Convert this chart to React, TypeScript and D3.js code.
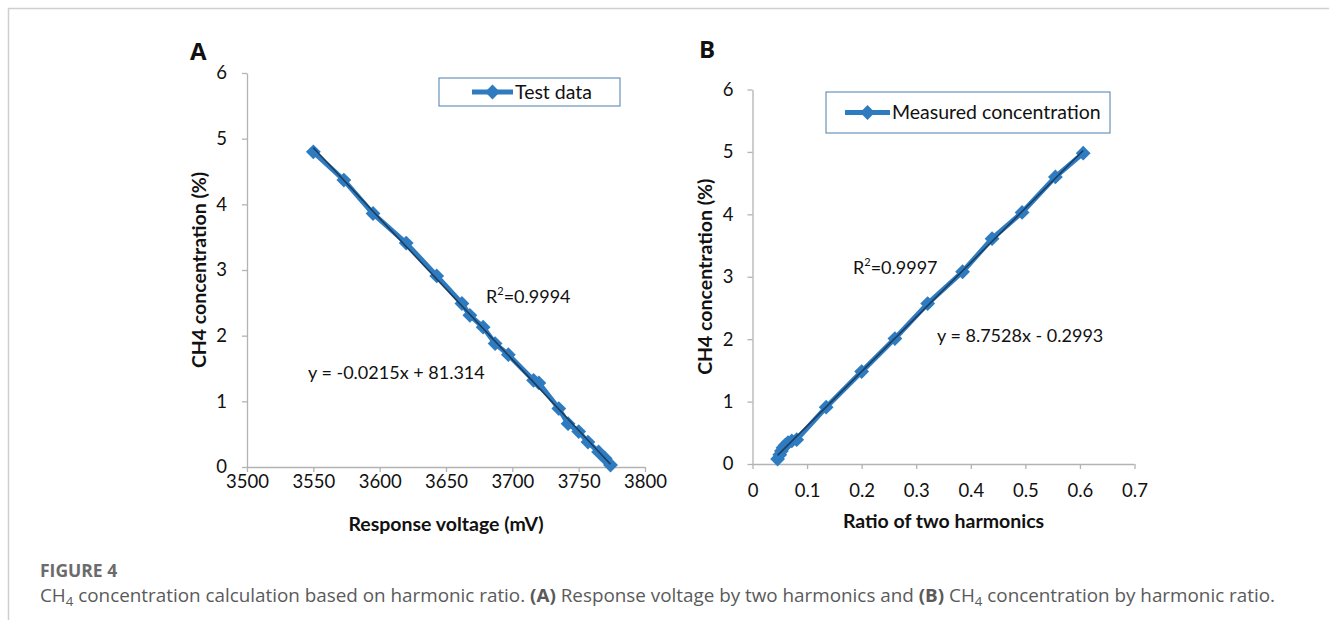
import React, { useRef, useEffect } from "react";
import * as d3 from "d3";

// panel A: response voltage vs CH4 concentration
const voltageA = [3550, 3573, 3595, 3620, 3643, 3662, 3668, 3678, 3687, 3697, 3716, 3720, 3735, 3742, 3750, 3757, 3765, 3770, 3774];
const concA = [4.8, 4.37, 3.86, 3.41, 2.91, 2.49, 2.31, 2.13, 1.88, 1.71, 1.32, 1.28, 0.89, 0.66, 0.54, 0.38, 0.23, 0.13, 0.03];

// panel B: harmonic ratio vs measured concentration
const ratioB = [0.046, 0.05, 0.053, 0.056, 0.06, 0.065, 0.072, 0.081, 0.135, 0.2, 0.261, 0.321, 0.385, 0.439, 0.494, 0.555, 0.606];
const concB = [0.08, 0.15, 0.21, 0.26, 0.3, 0.34, 0.37, 0.39, 0.91, 1.48, 2.01, 2.57, 3.08, 3.61, 4.03, 4.6, 4.98];

const xTicksA = [3500, 3550, 3600, 3650, 3700, 3750, 3800];
const xTicksB = [0, 0.1, 0.2, 0.3, 0.4, 0.5, 0.6, 0.7];
const yTicks = [0, 1, 2, 3, 4, 5, 6];

const BLUE = "#2e7bc0";
const TREND = "#1c3d5e";
const AXIS = "#b3b3b3";
const FONT = "Lato, 'Open Sans', sans-serif";

function fit(xs, ys) {
  const mx = d3.mean(xs), my = d3.mean(ys);
  let num = 0, den = 0;
  xs.forEach((x, i) => {
    num += (x - mx) * (ys[i] - my);
    den += (x - mx) * (x - mx);
  });
  const k = num / den;
  return { k, b: my - k * mx };
}

function drawPanel(svg, p) {
  const x = d3.scaleLinear().domain(p.xDomain).range([p.left, p.right]);
  const y = d3.scaleLinear().domain([0, 6]).range([p.bottom, p.top]);
  const g = svg.append("g");

  // axes
  const xa = g.append("g")
    .attr("transform", `translate(0,${p.bottom})`)
    .call(d3.axisBottom(x).tickValues(p.xTicks).tickSize(5).tickPadding(p.xPad).tickFormat(p.xFormat));
  const ya = g.append("g")
    .attr("transform", `translate(${p.left},0)`)
    .call(d3.axisLeft(y).tickValues(yTicks).tickSize(5).tickPadding(p.yPad).tickSizeOuter(0).tickFormat(d3.format("d")));
  [xa, ya].forEach((a) => {
    a.selectAll("path,line").attr("stroke", AXIS).attr("stroke-width", 1.3);
    a.selectAll("text").attr("font-family", FONT).attr("font-size", 18.5).attr("fill", "#111");
  });
  xa.select(".domain").attr("d", `M${p.left},0.5H${p.right}`);

  // series
  const pts = p.xs.map((v, i) => [v, p.ys[i]]);
  g.append("path")
    .datum(pts)
    .attr("fill", "none")
    .attr("stroke", BLUE)
    .attr("stroke-width", 5)
    .attr("stroke-linejoin", "round")
    .attr("d", d3.line().x((d) => x(d[0])).y((d) => y(d[1])));
  const diamond = d3.symbol().type(d3.symbolDiamond2).size(140);
  g.selectAll(".mk")
    .data(pts)
    .join("path")
    .attr("transform", (d) => `translate(${x(d[0])},${y(d[1])})`)
    .attr("d", diamond)
    .attr("fill", BLUE);

  // linear trendline
  const { k, b } = fit(p.xs, p.ys);
  const [x0, x1] = d3.extent(p.xs);
  g.append("line")
    .attr("x1", x(x0)).attr("y1", y(k * x0 + b))
    .attr("x2", x(x1)).attr("y2", y(k * x1 + b))
    .attr("stroke", TREND)
    .attr("stroke-width", 1.6);

  // legend
  const L = p.legend;
  g.append("rect")
    .attr("x", L.x).attr("y", L.y).attr("width", L.w).attr("height", L.h)
    .attr("fill", "white").attr("stroke", "#4a7fb0").attr("stroke-width", 1);
  const ly = L.y + L.h / 2;
  g.append("line")
    .attr("x1", L.x + L.l0).attr("x2", L.x + L.l1).attr("y1", ly).attr("y2", ly)
    .attr("stroke", BLUE).attr("stroke-width", 5);
  g.append("path")
    .attr("transform", `translate(${L.x + (L.l0 + L.l1) / 2},${ly})`)
    .attr("d", diamond)
    .attr("fill", BLUE);
  g.append("text")
    .attr("x", L.x + L.l1 + 2).attr("y", ly).attr("dy", "0.35em")
    .attr("font-family", FONT).attr("font-size", 19.5).attr("fill", "#111")
    .text(L.label);

  // annotations
  const r2 = g.append("text")
    .attr("x", p.r2[0]).attr("y", p.r2[1])
    .attr("font-family", FONT).attr("font-size", 18).attr("fill", "#111");
  r2.append("tspan").text("R");
  r2.append("tspan").attr("dy", -8).attr("font-size", 11).text("2");
  r2.append("tspan").attr("dy", 8).text("=" + p.r2Text);
  g.append("text")
    .attr("x", p.eq[0]).attr("y", p.eq[1])
    .attr("font-family", FONT).attr("font-size", 18).attr("fill", "#111")
    .text(p.eqText);

  // titles
  g.append("text")
    .attr("x", (p.left + x(p.xTicks[p.xTicks.length - 1])) / 2).attr("y", p.xTitleY)
    .attr("text-anchor", "middle")
    .attr("font-family", FONT).attr("font-weight", "bold").attr("font-size", 19.5).attr("fill", "#111")
    .text(p.xTitle);
  g.append("text")
    .attr("transform", `translate(${p.yTitleX},${(p.top + p.bottom) / 2}) rotate(-90)`)
    .attr("text-anchor", "middle")
    .attr("font-family", FONT).attr("font-weight", "bold").attr("font-size", 19.5).attr("fill", "#111")
    .text("CH4 concentration (%)");
  g.append("text")
    .attr("x", p.tag[0]).attr("y", p.tag[1])
    .attr("font-family", "'Open Sans', sans-serif").attr("font-weight", "bold").attr("font-size", 24).attr("fill", "#111")
    .text(p.tagText);
}

export default function App() {
  const ref = useRef();

  useEffect(() => {
    const svg = d3.select(ref.current);
    svg.selectAll("*").remove();

    // frame
    svg.append("path")
      .attr("d", "M8.5,620V8.5H1329")
      .attr("fill", "none")
      .attr("stroke", "#cfcfcf")
      .attr("stroke-width", 1.5);

    drawPanel(svg, {
      xDomain: [3500, 3800], left: 247, right: 645, top: 73, bottom: 467,
      xTicks: xTicksA, xFormat: d3.format("d"), xPad: 3, yPad: 15,
      xs: voltageA, ys: concA,
      legend: { x: 439, y: 78, w: 181, h: 28, l0: 33, l1: 74, label: "Test data" },
      r2: [486, 303], r2Text: "0.9994",
      eq: [308, 379], eqText: "y = -0.0215x + 81.314",
      xTitle: "Response voltage (mV)", xTitleY: 531, yTitleX: 206,
      tag: [190, 60], tagText: "A",
    });

    drawPanel(svg, {
      xDomain: [0, 0.7], left: 752.5, right: 1134.5, top: 89.5, bottom: 464,
      xTicks: xTicksB, xFormat: (d) => (d === 0 ? "0" : d3.format(".1f")(d)), xPad: 15, yPad: 14,
      xs: ratioB, ys: concB,
      legend: { x: 826, y: 92, w: 284, h: 41, l0: 19, l1: 64, label: "Measured concentration" },
      r2: [853, 274], r2Text: "0.9997",
      eq: [937, 342], eqText: "y = 8.7528x - 0.2993",
      xTitle: "Ratio of two harmonics", xTitleY: 528, yTitleX: 712,
      tag: [699, 58], tagText: "B",
    });

    // caption
    svg.append("text")
      .attr("x", 40).attr("y", 577)
      .attr("font-family", "'Open Sans', sans-serif").attr("font-weight", "bold")
      .attr("font-size", 17.5).attr("fill", "#6b6b6b")
      .text("FIGURE 4");
    const cap = svg.append("text")
      .attr("x", 40).attr("y", 602)
      .attr("font-family", "'Open Sans', sans-serif")
      .attr("font-size", 18.5).attr("fill", "#5a5a5a")
      .attr("textLength", 1235).attr("lengthAdjust", "spacingAndGlyphs");
    const parts = [
      ["CH", 0, null],
      ["4", 4, "sub"],
      [" concentration calculation based on harmonic ratio. ", -4, null],
      ["(A)", 0, "bold"],
      [" Response voltage by two harmonics and ", 0, null],
      ["(B)", 0, "bold"],
      [" CH", 0, null],
      ["4", 4, "sub"],
      [" concentration by harmonic ratio.", -4, null],
    ];
    parts.forEach(([t, dy, kind]) => {
      const s = cap.append("tspan").attr("dy", dy).text(t);
      if (kind === "sub") s.attr("font-size", 13);
      if (kind === "bold") s.attr("font-weight", "bold");
    });
  }, []);

  return (
    <svg
      ref={ref}
      width={1329}
      height={628}
      style={{ position: "absolute", left: 0, top: 0, background: "white" }}
    ></svg>
  );
}
